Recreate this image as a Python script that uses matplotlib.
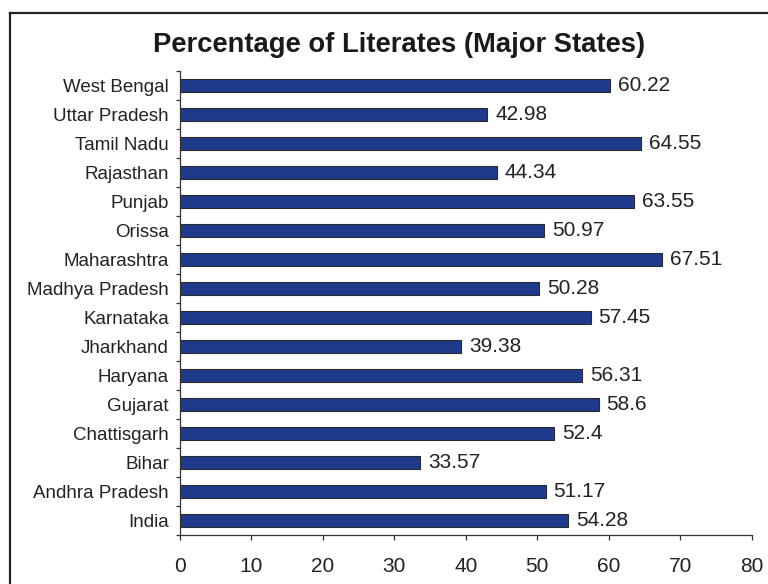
import matplotlib
matplotlib.use("Agg")
import matplotlib.pyplot as plt
import numpy as np
from matplotlib.lines import Line2D

states = ["India", "Andhra Pradesh", "Bihar", "Chattisgarh", "Gujarat", "Haryana",
          "Jharkhand", "Karnataka", "Madhya Pradesh", "Maharashtra", "Orissa",
          "Punjab", "Rajasthan", "Tamil Nadu", "Uttar Pradesh", "West Bengal"]
literacy = [54.28, 51.17, 33.57, 52.4, 58.6, 56.31, 39.38, 57.45, 50.28, 67.51,
            50.97, 63.55, 44.34, 64.55, 42.98, 60.22]
value_labels = ["54.28", "51.17", "33.57", "52.4", "58.6", "56.31", "39.38", "57.45",
                "50.28", "67.51", "50.97", "63.55", "44.34", "64.55", "42.98", "60.22"]
xticks = [0, 10, 20, 30, 40, 50, 60, 70, 80]

plt.rcParams['font.family'] = ['Liberation Sans', 'DejaVu Sans']
txt = '#222222'

fig = plt.figure(figsize=(7.68, 5.84), dpi=100)
ax = fig.add_axes([0.2344, 0.0839, 0.7444, 0.7945])

y = np.arange(len(states))
ax.barh(y, literacy, height=0.45, color='#1f3a8a', edgecolor='#2a2a2a', linewidth=0.8)

for yi, v, lab in zip(y, literacy, value_labels):
    ax.text(v + 1.1, yi, lab, va='center', ha='left', fontsize=15, color=txt)

ax.set_xlim(0, 80)
ax.set_ylim(-0.5, len(states) - 0.5)
ax.set_xticks(xticks)
ax.set_xticklabels([str(t) for t in xticks], fontsize=15, color=txt)
ax.set_yticks(y)
ax.set_yticklabels(states, fontsize=13.5, color=txt)
ax.set_yticks(np.arange(-0.5, len(states), 1.0), minor=True)
ax.tick_params(axis='y', which='major', length=0, pad=8)
ax.tick_params(axis='y', which='minor', length=3, width=0.9, color='#333333', direction='out')
ax.tick_params(axis='x', length=3.6, width=0.9, color='#333333', pad=12)

for s in ['top', 'right']:
    ax.spines[s].set_visible(False)
for s in ['left', 'bottom']:
    ax.spines[s].set_color('#333333')
    ax.spines[s].set_linewidth(0.9)

fig.text(0.519, 0.923, "Percentage of Literates (Major States)", ha='center', va='center',
         fontsize=19.7, fontweight='bold', color='#1a1a1a')

# outer frame (only left and top edges fall inside the picture)
x0 = 9.5 / 768
y0 = 1 - 12.5 / 584
fig.add_artist(Line2D([x0, x0], [-0.05, y0], transform=fig.transFigure, color='#222222', lw=1.6))
fig.add_artist(Line2D([x0, 1.05], [y0, y0], transform=fig.transFigure, color='#222222', lw=1.6))

fig.savefig("out.png", dpi=100)
